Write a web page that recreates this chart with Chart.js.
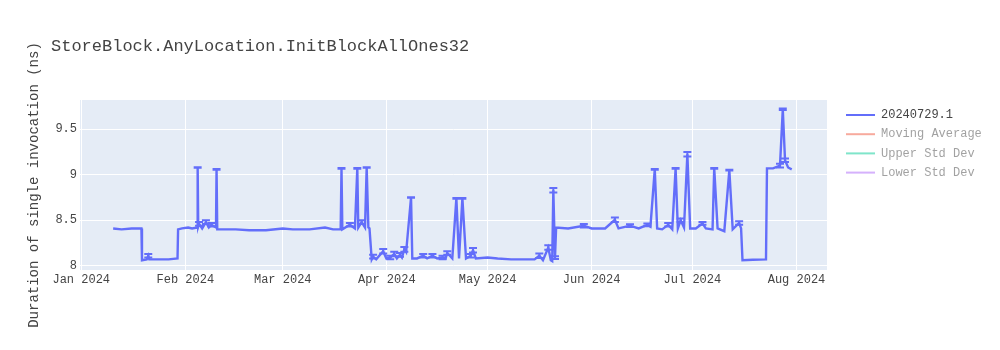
<!DOCTYPE html>
<html>
<head>
<meta charset="utf-8">
<script src="https://cdn.jsdelivr.net/npm/chart.js@4"></script>
<style>
  body { margin: 0; background: #fff; }
</style>
</head>
<body>
<canvas id="chart" width="1000" height="350"></canvas>
<script>
// chart data
const chartTitle = "StoreBlock.AnyLocation.InitBlockAllOnes32";
const yTitle = "Duration of single invocation (ns)";
const seriesNames = ["20240729.1", "Moving Average", "Upper Std Dev", "Lower Std Dev"];
const seriesColors = ["#636efa", "#EF553B", "#00cc96", "#ab63fa"];

const dates = [
  "2024-01-10T12:00", "2024-01-13T00:00", "2024-01-16T00:00", "2024-01-18T22:00", "2024-01-19T02:00",
  "2024-01-20T12:00", "2024-01-20T23:00", "2024-01-21T06:00", "2024-01-24T00:00", "2024-01-27T00:00",
  "2024-01-29T16:00", "2024-01-29T20:00", "2024-01-31T00:00", "2024-02-01T20:00", "2024-02-03T00:00",
  "2024-02-04T12:00", "2024-02-04T16:00", "2024-02-04T20:00", "2024-02-05T02:00", "2024-02-06T00:00",
  "2024-02-07T03:00", "2024-02-08T00:00", "2024-02-08T18:00", "2024-02-10T03:00", "2024-02-10T07:00",
  "2024-02-10T12:00", "2024-02-13T00:00", "2024-02-16T00:00", "2024-02-20T00:00", "2024-02-25T00:00",
  "2024-03-01T00:00", "2024-03-04T00:00", "2024-03-09T00:00", "2024-03-13T14:00", "2024-03-16T00:00",
  "2024-03-18T06:00", "2024-03-18T12:00", "2024-03-18T18:00", "2024-03-21T00:00", "2024-03-22T12:00",
  "2024-03-23T05:00", "2024-03-23T12:00", "2024-03-24T12:00", "2024-03-25T12:00", "2024-03-26T00:00",
  "2024-03-26T12:00", "2024-03-26T20:00", "2024-03-27T12:00", "2024-03-27T22:00", "2024-03-28T20:00",
  "2024-03-30T22:00", "2024-03-31T20:00", "2024-04-02T00:00", "2024-04-03T05:00", "2024-04-04T00:00",
  "2024-04-04T22:00", "2024-04-05T12:00", "2024-04-06T05:00", "2024-04-06T18:00", "2024-04-08T05:00",
  "2024-04-08T14:00", "2024-04-10T00:00", "2024-04-11T20:00", "2024-04-13T00:00", "2024-04-14T14:00",
  "2024-04-16T00:00", "2024-04-17T14:00", "2024-04-18T12:00", "2024-04-19T00:00", "2024-04-20T12:00",
  "2024-04-21T17:00", "2024-04-22T12:00", "2024-04-23T12:00", "2024-04-24T14:00", "2024-04-26T00:00",
  "2024-04-26T16:00", "2024-04-27T12:00", "2024-05-01T00:00", "2024-05-04T00:00", "2024-05-08T00:00",
  "2024-05-12T00:00", "2024-05-15T00:00", "2024-05-16T10:00", "2024-05-17T12:00", "2024-05-19T02:00",
  "2024-05-19T20:00", "2024-05-20T06:00", "2024-05-20T14:00", "2024-05-21T02:00", "2024-05-21T10:00",
  "2024-05-25T00:00", "2024-05-29T16:00", "2024-06-01T00:00", "2024-06-05T00:00", "2024-06-07T22:00",
  "2024-06-09T00:00", "2024-06-12T10:00", "2024-06-15T00:00", "2024-06-17T14:00", "2024-06-18T12:00",
  "2024-06-19T19:00", "2024-06-20T12:00", "2024-06-22T00:00", "2024-06-23T19:00", "2024-06-25T00:00",
  "2024-06-26T00:00", "2024-06-26T16:00", "2024-06-27T12:00", "2024-06-28T12:00", "2024-06-29T12:00",
  "2024-06-30T08:00", "2024-07-02T00:00", "2024-07-04T00:00", "2024-07-05T00:00", "2024-07-07T00:00",
  "2024-07-07T12:00", "2024-07-08T12:00", "2024-07-10T12:00", "2024-07-12T00:00", "2024-07-13T00:00",
  "2024-07-14T22:00", "2024-07-15T12:00", "2024-07-15T22:00", "2024-07-19T00:00", "2024-07-22T22:00",
  "2024-07-23T05:00", "2024-07-25T00:00", "2024-07-27T02:00", "2024-07-27T22:00", "2024-07-28T14:00",
  "2024-07-29T12:00", "2024-07-30T14:00"
];
const values = [
  8.41, 8.40, 8.41, 8.41, 8.06,
  8.07, 8.11, 8.07, 8.07, 8.07,
  8.08, 8.40, 8.41, 8.42, 8.41,
  8.42, 9.08, 8.43, 8.46, 8.41,
  8.48, 8.42, 8.45, 8.42, 9.06,
  8.40, 8.40, 8.40, 8.39, 8.39,
  8.41, 8.40, 8.40, 8.42, 8.40,
  8.40, 9.07, 8.40, 8.45, 8.41,
  9.07, 8.42, 8.48, 8.42, 9.08,
  8.42, 8.41, 8.07, 8.10, 8.07,
  8.16, 8.08, 8.09, 8.13, 8.08,
  8.12, 8.09, 8.18, 8.15, 8.75,
  8.08, 8.08, 8.11, 8.08, 8.11,
  8.08, 8.09, 8.08, 8.14, 8.08,
  8.74, 8.08, 8.74, 8.08, 8.11,
  8.17, 8.08, 8.09, 8.08, 8.07,
  8.07, 8.07, 8.11, 8.06, 8.20,
  8.06, 8.05, 8.83, 8.09, 8.42,
  8.41, 8.44, 8.41, 8.41, 8.505,
  8.41, 8.44, 8.41, 8.45, 8.43,
  9.06, 8.41, 8.40, 8.45, 8.40,
  9.07, 8.41, 8.50, 8.42, 9.225,
  8.41, 8.41, 8.465, 8.41, 8.40,
  9.07, 8.41, 8.38, 9.05, 8.40,
  8.47, 8.41, 8.06, 8.065, 8.07,
  9.07, 9.07, 9.10, 9.72, 9.16,
  9.08, 9.06
];
const errors = [
  0, 0, 0, 0, 0,
  0, 0.02, 0, 0, 0,
  0, 0, 0, 0, 0,
  0, 0.004, 0, 0.02, 0,
  0.02, 0, 0.02, 0, 0.004,
  0, 0, 0, 0, 0,
  0, 0, 0, 0, 0,
  0, 0.004, 0, 0.02, 0,
  0.004, 0, 0.02, 0, 0.004,
  0, 0, 0, 0.02, 0,
  0.025, 0, 0.02, 0.025, 0,
  0.02, 0, 0.025, 0, 0.004,
  0, 0, 0.02, 0, 0.02,
  0, 0.02, 0, 0.02, 0,
  0.004, 0, 0.004, 0, 0.02,
  0.025, 0, 0, 0, 0,
  0, 0, 0.025, 0, 0.025,
  0, 0, 0.025, 0.015, 0,
  0, 0.02, 0, 0, 0.025,
  0, 0.015, 0, 0.015, 0,
  0.004, 0, 0, 0.02, 0,
  0.004, 0, 0.02, 0, 0.025,
  0, 0, 0.015, 0, 0,
  0.004, 0, 0, 0.004, 0,
  0.02, 0, 0, 0, 0,
  0, 0, 0.02, 0.008, 0.02,
  0, 0
];

const monthTicks = ["2024-01-01", "2024-02-01", "2024-03-01", "2024-04-01", "2024-05-01", "2024-06-01", "2024-07-01", "2024-08-01"];
const monthLabels = ["Jan 2024", "Feb 2024", "Mar 2024", "Apr 2024", "May 2024", "Jun 2024", "Jul 2024", "Aug 2024"];
const yTicks = [8, 8.5, 9, 9.5];
const xRange = ["2023-12-31T15:00", "2024-08-10T02:00"];
const yRange = [7.953, 9.822];

const toMs = (s) => Date.parse(s.length === 10 ? s + "T00:00:00Z" : s + ":00Z");
const FONT = '"Liberation Mono", "Courier New", monospace';

// plot background, error bars, title and legend in plotly style
const decor = {
  id: "decor",
  beforeDraw(chart) {
    const { ctx, chartArea: a } = chart;
    ctx.save();
    ctx.fillStyle = "#e5ecf6";
    ctx.fillRect(a.left, a.top, a.right - a.left, a.bottom - a.top);
    ctx.restore();
  },
  afterDatasetsDraw(chart) {
    const { ctx, scales } = chart;
    const meta = chart.getDatasetMeta(0);
    ctx.save();
    ctx.strokeStyle = seriesColors[0];
    ctx.lineWidth = 2;
    ctx.beginPath();
    meta.data.forEach((pt, i) => {
      const e = errors[i];
      if (!e) return;
      const yt = scales.y.getPixelForValue(values[i] + e);
      const yb = scales.y.getPixelForValue(values[i] - e);
      ctx.moveTo(pt.x, yt); ctx.lineTo(pt.x, yb);
      ctx.moveTo(pt.x - 4, yt); ctx.lineTo(pt.x + 4, yt);
      ctx.moveTo(pt.x - 4, yb); ctx.lineTo(pt.x + 4, yb);
    });
    ctx.stroke();
    ctx.restore();
  },
  afterDraw(chart) {
    const ctx = chart.ctx;
    ctx.save();
    ctx.font = "17px " + FONT;
    ctx.fillStyle = "#444";
    ctx.textBaseline = "middle";
    ctx.fillText(chartTitle, 51, 46);

    ctx.font = "12px " + FONT;
    chart.data.datasets.forEach((ds, i) => {
      const y = 115 + i * 19.2;
      const hidden = i > 0;
      ctx.globalAlpha = hidden ? 0.5 : 1;
      ctx.strokeStyle = ds.borderColor;
      ctx.lineWidth = 2;
      ctx.beginPath();
      ctx.moveTo(846, y);
      ctx.lineTo(875, y);
      ctx.stroke();
      ctx.fillStyle = "#444";
      ctx.fillText(ds.label, 881, y);
    });
    ctx.restore();
  }
};

const mainData = dates.map((d, i) => ({ x: toMs(d), y: values[i] }));

new Chart(document.getElementById("chart"), {
  type: "line",
  data: {
    datasets: seriesNames.map((name, i) => ({
      label: name,
      data: i === 0 ? mainData : [],
      borderColor: seriesColors[i],
      borderWidth: i === 0 ? 2.4 : 2,
      pointRadius: 0,
      tension: 0,
      fill: false
    }))
  },
  options: {
    responsive: false,
    animation: false,
    layout: { padding: { top: 100, right: 173, left: 0, bottom: 0 } },
    plugins: {
      legend: { display: false },
      title: { display: false },
      tooltip: { enabled: false }
    },
    scales: {
      x: {
        type: "linear",
        min: toMs(xRange[0]),
        max: toMs(xRange[1]),
        afterFit: (s) => { s.height = 80; },
        afterBuildTicks: (s) => { s.ticks = monthTicks.map((m) => ({ value: toMs(m) })); },
        grid: { color: "#fff", lineWidth: 1, drawTicks: false },
        border: { display: false },
        ticks: {
          padding: 3,
          maxRotation: 0,
          autoSkip: false,
          color: "#444",
          font: { family: FONT, size: 12 },
          callback: (v, i) => monthLabels[i]
        }
      },
      y: {
        min: yRange[0],
        max: yRange[1],
        afterFit: (s) => { s.width = 80; },
        afterBuildTicks: (s) => { s.ticks = yTicks.map((v) => ({ value: v })); },
        grid: { color: "#fff", lineWidth: 1, drawTicks: false },
        border: { display: false },
        ticks: {
          padding: 3,
          color: "#444",
          font: { family: FONT, size: 12 },
          callback: (v) => String(v)
        },
        title: {
          display: true,
          text: yTitle,
          color: "#444",
          font: { family: FONT, size: 14 },
          padding: { top: 26, bottom: 0 }
        }
      }
    }
  },
  plugins: [decor]
});
</script>
</body>
</html>
